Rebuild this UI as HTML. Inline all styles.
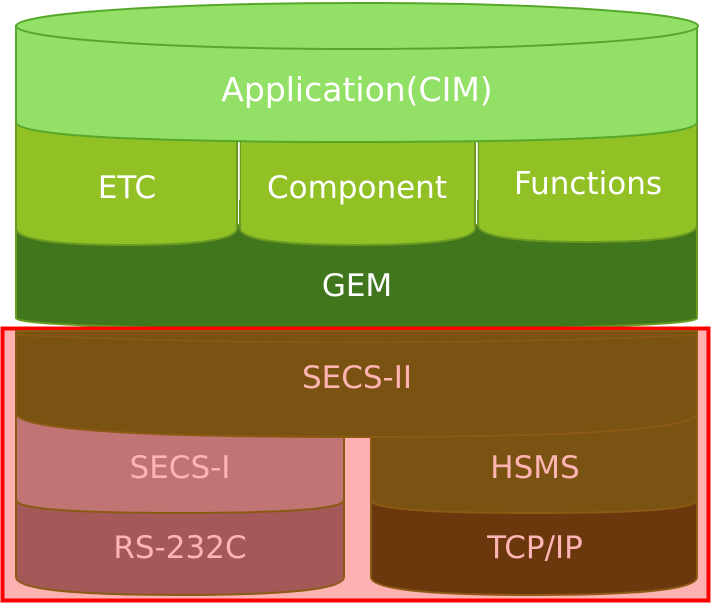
<!DOCTYPE html>
<html><head><meta charset="utf-8"><style>
html,body{margin:0;padding:0;background:#fff;width:712px;height:605px;overflow:hidden}
svg{display:block}
text{font-family:"DejaVu Sans","Liberation Sans",sans-serif;text-anchor:middle}
</style></head><body>
<svg width="712" height="605" viewBox="0 0 712 605" xmlns="http://www.w3.org/2000/svg">
<!-- GEM -->
<path d="M16 225 L697 225 L697 318 Q697 328 357 330 Q16 328 16 318 Z" fill="#41771c" stroke="#6a9a22" stroke-width="2"/>
<!-- middle cylinders -->
<path d="M16 120 L237 120 L237 228 Q237 245 127 245 Q16 245 16 228 Z" fill="#92c125" stroke="#6a9a22" stroke-width="2"/>
<path d="M240 120 L475 120 L475 228 Q475 245 357 245 Q240 245 240 228 Z" fill="#92c125" stroke="#6a9a22" stroke-width="2"/>
<path d="M478 120 L697 120 L697 225 Q697 242 588 242 Q478 242 478 225 Z" fill="#92c125" stroke="#6a9a22" stroke-width="2"/>
<line x1="239" y1="140" x2="239" y2="200" stroke="#fff" stroke-width="1.5"/>
<line x1="477" y1="140" x2="477" y2="200" stroke="#fff" stroke-width="1.5"/>
<!-- Application -->
<path d="M16 26 L16 122 Q16 142 357 142 Q697 142 697 122 L697 26 Z" fill="#93e066" stroke="#56a82a" stroke-width="2"/>
<ellipse cx="357" cy="26" rx="341" ry="23" fill="#93e066" stroke="#56a82a" stroke-width="2"/>
<text x="357" y="101" font-size="33" fill="#fff">Application(CIM)</text>
<text x="127" y="198" font-size="31" fill="#fff">ETC</text>
<text x="357" y="198" font-size="31" fill="#fff">Component</text>
<text x="588" y="194" font-size="31" fill="#fff">Functions</text>
<text x="357" y="296" font-size="31" fill="#fff">GEM</text>
<!-- red box -->
<rect x="2.5" y="328.5" width="706" height="272" fill="#ffb0b0" stroke="#ff0000" stroke-width="4"/>
<!-- RS-232C -->
<path d="M16 500 L344 500 L344 577 Q344 595 180 595 Q16 595 16 577 Z" fill="#a45858" stroke="#8b5a14" stroke-width="2"/>
<!-- TCP/IP -->
<path d="M371 500 L697 500 L697 577 Q697 595 534 595 Q371 595 371 577 Z" fill="#6b370d" stroke="#8b5a14" stroke-width="2"/>
<!-- SECS-I -->
<path d="M16 415 L344 415 L344 500 Q344 513 180 513 Q16 513 16 500 Z" fill="#c07474" stroke="#8b5a14" stroke-width="2"/>
<!-- HSMS -->
<path d="M371 415 L697 415 L697 500 Q697 513 534 513 Q371 513 371 500 Z" fill="#7a5212" stroke="#8b5a14" stroke-width="2"/>
<!-- SECS-II -->
<path d="M16 331 L697 331 L697 413 Q697 437 357 437 Q16 437 16 413 Z" fill="#7a5212" stroke="#8b5a14" stroke-width="2"/>
<path d="M16 335 Q357 350 697 335" fill="none" stroke="#8b5a14" stroke-width="1.5"/>
<text x="357" y="388" font-size="31" fill="#ffb4b4">SECS-II</text>
<text x="180" y="478" font-size="31" fill="#ffb4b4">SECS-I</text>
<text x="535" y="478" font-size="31" fill="#ffb4b4">HSMS</text>
<text x="180" y="558" font-size="31" fill="#ffb4b4">RS-232C</text>
<text x="535" y="558" font-size="31" fill="#ffb4b4">TCP/IP</text>
</svg>
</body></html>
